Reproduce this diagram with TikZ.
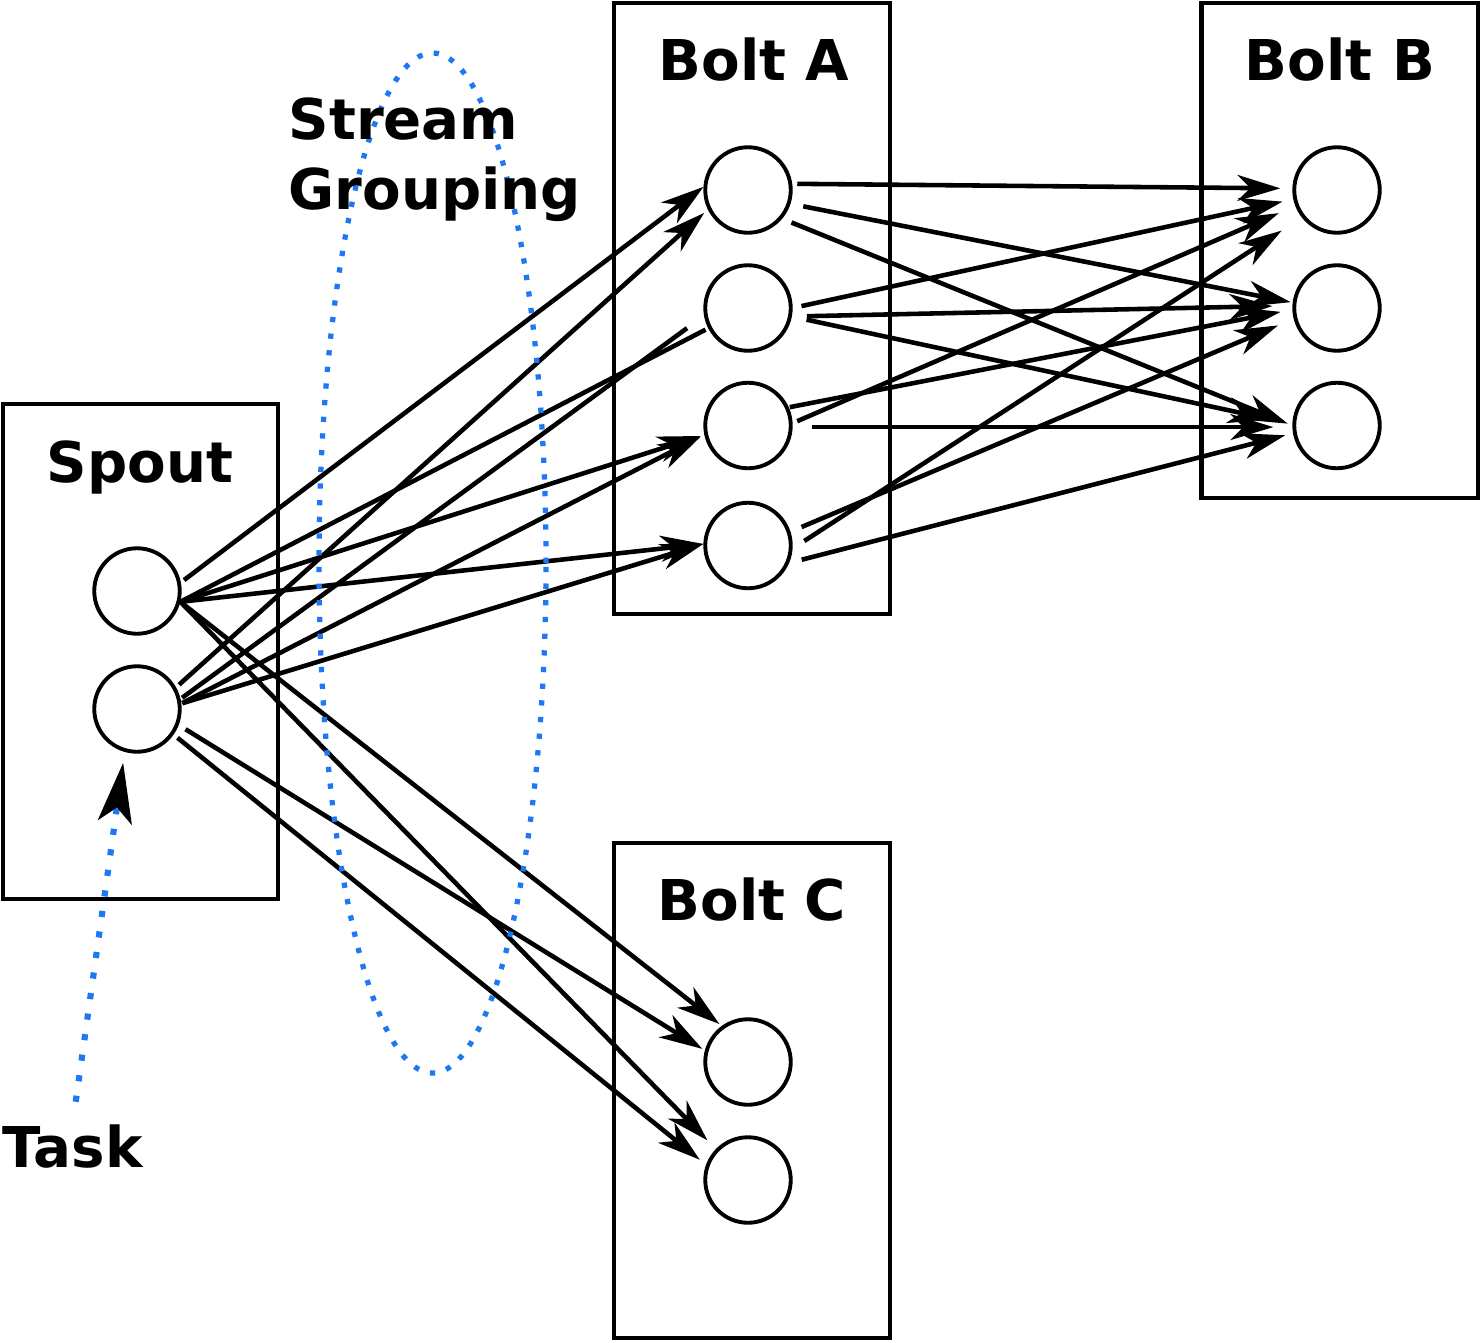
\documentclass[tikz,border=0pt]{standalone}
\usepackage{fontspec}
\setmainfont{DejaVu Sans}
\usetikzlibrary{arrows.meta,shapes.geometric}
\definecolor{grpblue}{RGB}{30,120,245}

\begin{document}
\begin{tikzpicture}
		[line join=miter]
			\tikzstyle{task}=[circle, draw, fill=white, line width=1.1pt,
		minimum size=0.855cm, inner sep=0pt]
			\tikzstyle{comp}=[rectangle, draw, line width=1.3pt, inner sep=0pt]
			\tikzstyle{ttl}=[font=\bfseries\fontsize{16}{19.9}\selectfont, inner sep=0pt]
			\tikzstyle{flow}=[line width=1.3pt, -{Stealth[length=0.43cm,width=0.26cm,inset=0.13cm]}]
			\tikzstyle{wire}=[line width=1.3pt]
		\useasboundingbox (0,0) rectangle (14.81,-13.42);
		%-----boxes
		 \node[comp, minimum width=2.75cm, minimum height=4.95cm]  (spout) at (1.405,-6.515) {};
		 \node[comp, minimum width=2.76cm, minimum height=6.11cm]  (boltA) at (7.52,-3.085) {};
		 \node[comp, minimum width=2.765cm, minimum height=4.95cm]  (boltB) at (13.3975,-2.505) {};
		 \node[comp, minimum width=2.76cm, minimum height=4.95cm]  (boltC) at (7.52,-10.905) {};
		%-----tasks
		 \node[task]  (S1) at (1.37,-5.91) {};
		 \node[task]  (S2) at (1.37,-7.09) {};
		 \node[task]  (A1) at (7.48,-1.90) {};
		 \node[task]  (A2) at (7.48,-3.08) {};
		 \node[task]  (A3) at (7.48,-4.255) {};
		 \node[task]  (A4) at (7.48,-5.455) {};
		 \node[task]  (B1) at (13.37,-1.90) {};
		 \node[task]  (B2) at (13.37,-3.08) {};
		 \node[task]  (B3) at (13.37,-4.255) {};
		 \node[task]  (C1) at (7.48,-10.62) {};
		 \node[task]  (C2) at (7.48,-11.80) {};
		 
		 
		 \foreach \from/\a/\to/\b/\s/\t in {S1/11/A1/176/0.4/0,S2/29/A1/206/0.4/0.5,S1/346/A3/192/0/0.4,S2/7/A3/192/0.1/0.4,S1/346/A4/178/0/0,S2/7/A4/178/0.1/0,S1/346/C1/126/0/0.3,S1/346/C2/136/0/1.2,S2/339/C1/165/0.8/0.3,S2/325/C2/160/0.5/0.8,A1/8/B1/178/0.5/1.2,A1/342/B2/173/1.3/0.2,A1/320/B3/180/1.0/0.5,A2/0/B1/192/0.9/1.1,A2/349/B2/177/1.5/2.0,A2/349/B3/178/1.5/2.2,A3/24/B2/182/0.1/1.2,A3/3/B1/201/0.5/1.8,A3/358/B3/182/1.9/1.9,A4/18/B2/194/1.2/1.7,A4/356/B1/218/1.4/2.4,A4/337/B3/190/1.3/0.8}
		 \draw[flow, shorten <=\s mm, shorten >=\t mm] (\from.\a) -- (\to.\b);
		 
		 \foreach \from/\a/\to/\b/\s/\t in {S1/346/A2/207/0/0.3,S2/13/A2/190/0.2/2.1}
		 \draw[wire, shorten <=\s mm, shorten >=\t mm] (\from.\a) -- (\to.\b);
		 
		%-----grouping
		 \node[ellipse, draw=grpblue, line width=1.5pt, dash pattern=on 1.5pt off 3.25pt,
		 minimum width=2.27cm, minimum height=10.2cm, inner sep=0pt]  (grp) at (4.325,-5.63) {};
		 
		 \node[ttl, anchor=base]  (tSpout) at (1.40,-4.82) {Spout};
		 \node[ttl, anchor=base]  (tA) at (7.54,-0.80) {Bolt A};
		 \node[ttl, anchor=base]  (tB) at (13.40,-0.80) {Bolt B};
		 \node[ttl, anchor=base]  (tC) at (7.52,-9.20) {Bolt C};
		 \node[ttl, anchor=north west, align=left]  (tGrp) at (2.88,-0.97) {Stream\\Grouping};
		 \node[ttl, anchor=base west]  (task) at (0.02,-11.67) {Task};
		 
		 \draw[grpblue, line width=1.75pt, dash pattern=on 1.75pt off 4.15pt,
		 -{Stealth[length=0.6cm,width=0.34cm,inset=0.15cm,black]},
		 shorten <=2.2mm, shorten >=1.1mm] (task.north) -- (S2.254);
		 
		\end{tikzpicture}
\end{document}
